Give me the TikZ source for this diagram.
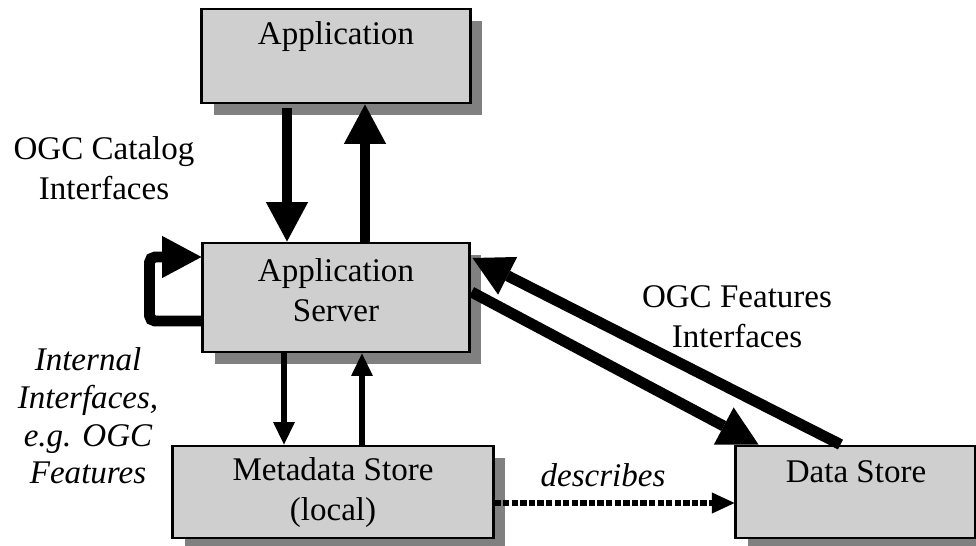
\documentclass[tikz,border=0pt]{standalone}
\usepackage{fontspec}
\setmainfont{Liberation Serif}
\usetikzlibrary{arrows.meta}
\usetikzlibrary{calc,shadows}
\colorlet{boxfill}{black!19}
\colorlet{boxshade}{black!50}
\tikzstyle{box}=[draw,line width=2.1pt,fill=boxfill,inner sep=0,
  drop shadow={shadow xshift=0.3cm,shadow yshift=-0.3cm,fill=boxshade,opacity=1}]
\tikzstyle{txt}=[inner sep=0,align=center,font=\fontsize{23.5pt}{28.5pt}\selectfont]
\tikzstyle{itxt}=[txt,font=\fontsize{23.5pt}{26.8pt}\selectfont\itshape]
\tikzstyle{bigarr}=[line width=7.8pt,-{Triangle[length=28pt,width=30pt,line width=0pt]}]
\tikzstyle{smallarr}=[line width=3.6pt,-{Triangle[length=16pt,width=15.6pt,line width=0pt]}]
\tikzstyle{dotarr}=[line width=3.6pt,dash pattern=on 4.5pt off 1.6pt,
  -{Triangle[length=16pt,width=15pt,line width=0pt]}]

\begin{document}
\begin{tikzpicture}[x=0.025cm,y=-0.025cm]
			
			\useasboundingbox (0,0) rectangle (976,546);
			\def\th{94}     % height of top boxes
			\def\sh{109}    % height of server box
			\def\bh{92}     % height of bottom boxes
			
			% BOXES
			\node[box,minimum width=6.7cm,minimum height=\th*0.025cm] (app) at (336,56) {};
			\node[box,minimum width=6.65cm,minimum height=\sh*0.025cm] (srv) at (336,297.5) {};
			\node[box,minimum width=8cm,minimum height=\bh*0.025cm] (meta) at (333,492) {};
			\node[box,minimum width=5.975cm,minimum height=\bh*0.025cm] (dat) at (855.5,492) {};
			
			% BOX TEXTS
			\node[txt] (app-t) at (336,37) {Application};
			\node[txt] (srv-t) at (336,290) {Application\\Server};
			\node[txt] (meta-t) at (333,492.5) {Metadata Store\\(local)};
			\node[txt] (dat-t) at (856,472) {Data Store};
			
			% ARROWS
			\draw[bigarr] ($(app.south)+(-49,4)$) -- ($(srv.north)+(-49,0)$);
			\draw[bigarr] ($(srv.north)+(29,0)$) -- ($(app.south)+(29,0)$);
			\draw[bigarr,rounded corners=4pt] ($(srv.west)+(0,23.5)$) -- ++(-52,0)
			|- ($(srv.west)+(0,-40.5)$);
			\draw[smallarr] ($(srv.south)+(-52,0)$) -- ($(meta.north)+(-49,0)$);
			\draw[smallarr] ($(meta.north)+(29,0)$) -- ($(srv.south)+(26,0)$);
			\draw[bigarr] ($(srv.east)+(1,-5.5)$) -- ($(dat.north)+(-97,0)$);
			\draw[bigarr] ($(dat.north)+(-15,0)$) -- ($(srv.east)+(2,-39.5)$);
			\draw[dotarr] ($(meta.east)+(0,11)$) -- ($(dat.west)+(0,11)$);
			
			% LABELS
			\node[txt] (cat) at (104,168) {OGC Catalog\\Interfaces};
			\node[itxt] (int) at (88,416) {Internal\\Interfaces,\\e.g. OGC\\Features};
			\node[txt] (feat) at (737,317) {OGC Features\\Interfaces};
			\node[itxt] (desc) at (603,475) {describes};
			
		\end{tikzpicture}
\end{document}
